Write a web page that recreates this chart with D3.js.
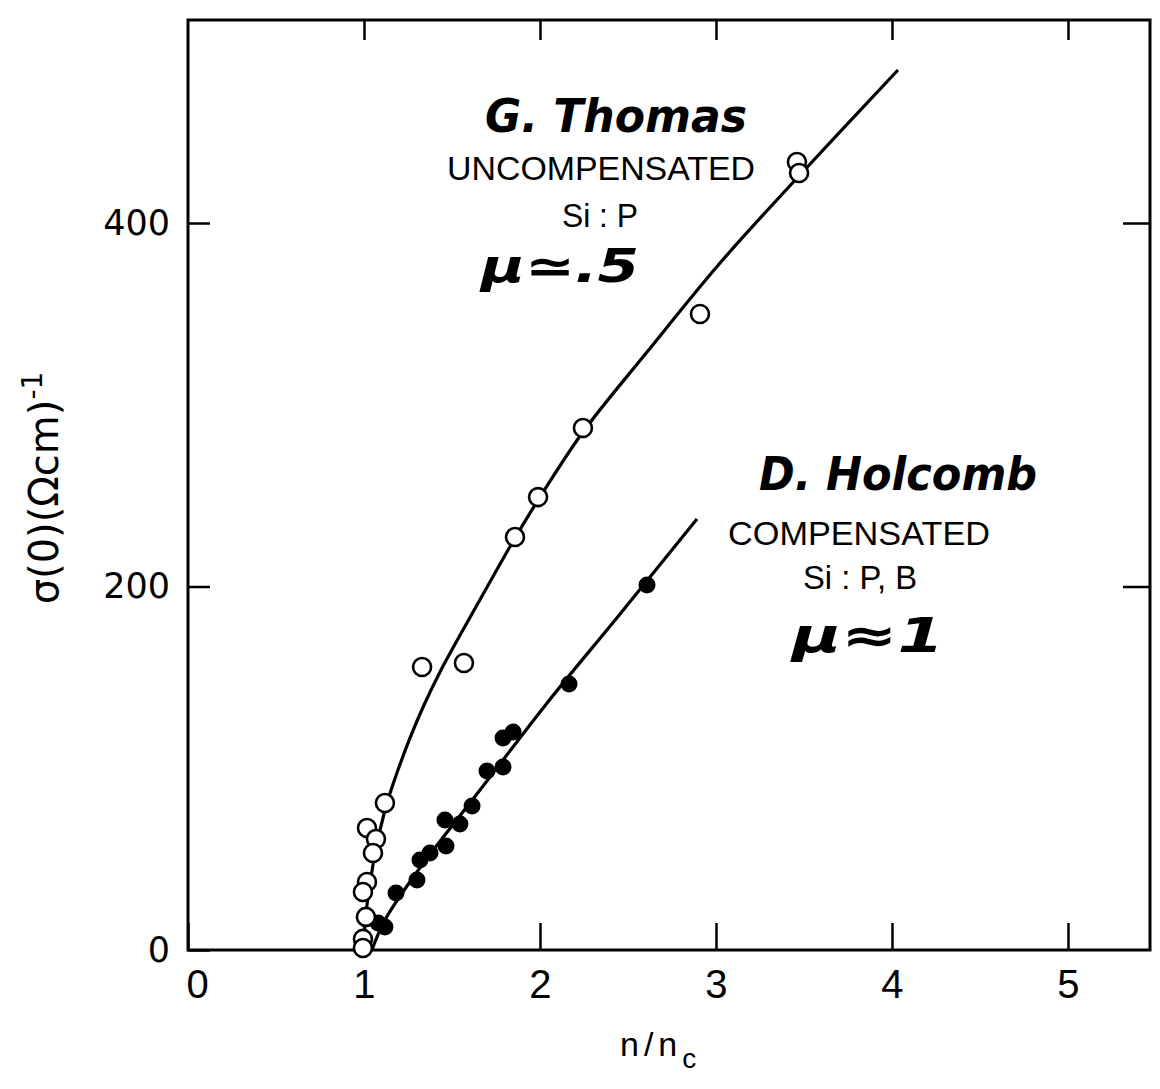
<!DOCTYPE html>
<html>
<head>
<meta charset="utf-8">
<script src="https://cdn.jsdelivr.net/npm/d3@7/dist/d3.min.js"></script>
<style>
  html, body { margin: 0; padding: 0; background: #fff; }
  svg { display: block; }
</style>
</head>
<body>
<svg id="chart" width="1160" height="1089"></svg>
<script>
// ---- data ----
const X_TICKS = [0, 1, 2, 3, 4, 5];
const Y_TICKS = [0, 200, 400];

// G. Thomas, uncompensated Si:P (open circles)
const thomasN     = [3.460, 3.472, 2.909, 2.244, 1.989, 1.858, 1.568, 1.330, 1.119, 1.017, 1.068, 1.051, 1.017, 0.994, 1.011, 0.994, 0.994];
const thomasSigma = [433.6, 427.5, 349.9, 287.2, 249.2, 227.2, 157.9, 155.7, 80.9, 67.1, 61.1, 53.4, 37.4, 31.9, 18.2, 6.1, 1.1];

// D. Holcomb, compensated Si:P,B (filled circles)
const holcombN     = [2.608, 2.165, 1.847, 1.790, 1.790, 1.699, 1.614, 1.545, 1.460, 1.466, 1.375, 1.318, 1.301, 1.182, 1.119, 1.080];
const holcombSigma = [200.8, 146.3, 119.9, 116.6, 100.7, 98.5, 79.2, 69.3, 71.5, 57.2, 53.4, 49.5, 38.5, 31.4, 12.7, 14.9];

// drawn fit curves
const thomasCurveN     = [0.994, 1.017, 1.051, 1.091, 1.136, 1.193, 1.261, 1.341, 1.432, 1.642, 1.858, 2.000, 2.244, 2.608, 3.023, 3.466, 4.034];
const thomasCurveSigma = [0, 24.8, 46.8, 66.0, 82.5, 99.0, 116.6, 134.8, 153.0, 189.8, 226.7, 249.2, 285.0, 329.0, 378.0, 425.3, 484.2];
const holcombCurveN     = [1.045, 1.119, 1.301, 1.659, 2.045, 2.455, 2.892];
const holcombCurveSigma = [0, 16.5, 42.9, 88.0, 136.5, 184.9, 237.1];

// ---- chart ----
const svg = d3.select("#chart");
const x = d3.scaleLinear().domain([0, 5.466]).range([188, 1150]);
const y = d3.scaleLinear().domain([0, 511.7]).range([950, 20]);

const INK = "#000";

// axes (ticks inward)
const gB = svg.append("g").attr("transform", `translate(0,${y(0)})`)
  .call(d3.axisBottom(x).tickValues(X_TICKS).tickSizeInner(-27).tickSizeOuter(0).tickPadding(20).tickFormat(d3.format("d")));
const gL = svg.append("g").attr("transform", `translate(${x(0)},0)`)
  .call(d3.axisLeft(y).tickValues(Y_TICKS).tickSizeInner(-22).tickSizeOuter(0).tickPadding(18).tickFormat(d3.format("d")));
const gT = svg.append("g").attr("transform", `translate(0,${y.range()[1]})`)
  .call(d3.axisTop(x).tickValues(X_TICKS.slice(1)).tickSizeInner(-20).tickSizeOuter(0).tickFormat(""));
const gR = svg.append("g").attr("transform", `translate(${x.range()[1]},0)`)
  .call(d3.axisRight(y).tickValues(Y_TICKS.slice(1)).tickSizeInner(-27).tickSizeOuter(0).tickFormat(""));

[gB, gL, gT, gR].forEach(g => {
  g.select(".domain").remove();
  g.selectAll(".tick line").attr("stroke", INK).attr("stroke-width", 2.5);
});
gB.selectAll(".tick text")
  .attr("font-family", "'Liberation Sans Narrow', 'Liberation Sans', Arial, sans-serif")
  .attr("font-size", 40).attr("fill", INK)
  .attr("dx", d => d === 0 ? 9 : 0);
gL.selectAll(".tick text")
  .attr("font-family", "'DejaVu Sans', sans-serif")
  .attr("font-size", 35).attr("fill", INK);

// frame
svg.append("rect")
  .attr("x", x(0)).attr("y", y.range()[1])
  .attr("width", x.range()[1] - x(0)).attr("height", y(0) - y.range()[1])
  .attr("fill", "none").attr("stroke", INK).attr("stroke-width", 3);

// curves
const line = d3.line().x(d => x(d[0])).y(d => y(d[1])).curve(d3.curveCatmullRom.alpha(0.5));
svg.append("path").datum(d3.zip(thomasCurveN, thomasCurveSigma))
  .attr("d", line).attr("fill", "none").attr("stroke", INK).attr("stroke-width", 3.2);
svg.append("path").datum(d3.zip(holcombCurveN, holcombCurveSigma))
  .attr("d", line).attr("fill", "none").attr("stroke", INK).attr("stroke-width", 3.2);

// points
svg.append("g").selectAll("circle").data(d3.zip(holcombN, holcombSigma)).join("circle")
  .attr("cx", d => x(d[0])).attr("cy", d => y(d[1])).attr("r", 8.5).attr("fill", INK);
svg.append("g").selectAll("circle").data(d3.zip(thomasN, thomasSigma)).join("circle")
  .attr("cx", d => x(d[0])).attr("cy", d => y(d[1])).attr("r", 9)
  .attr("fill", "#fff").attr("stroke", INK).attr("stroke-width", 2.6);

// annotations
const sans = "'Liberation Sans', Arial, Helvetica, sans-serif";
const hand = "'DejaVu Sans', sans-serif";
function txt(s, cx, by, size, fam, opts = {}) {
  const t = svg.append("text").attr("x", cx).attr("y", by)
    .attr("text-anchor", opts.anchor || "middle")
    .attr("font-family", fam).attr("font-size", size).attr("fill", INK)
    .text(s);
  if (opts.bold) t.attr("font-weight", "bold");
  if (opts.italic) t.attr("font-style", "italic");
  if (opts.len) t.attr("textLength", opts.len).attr("lengthAdjust", "spacingAndGlyphs");
  return t;
}
txt("G. Thomas", 616, 132, 46, hand, {bold: true, italic: true, len: 262});
txt("UNCOMPENSATED", 601, 180, 33, sans, {len: 308});
txt("Si : P", 600, 227, 33, sans, {len: 76});
txt("μ≃.5", 560, 282, 46, hand, {bold: true, italic: true, len: 158});

txt("D. Holcomb", 898, 490, 46, hand, {bold: true, italic: true, len: 278});
txt("COMPENSATED", 859, 545, 33, sans, {len: 262});
txt("Si : P, B", 860, 589, 33, sans, {len: 114});
txt("μ≈1", 868, 652, 48, hand, {bold: true, italic: true, len: 152});

// axis titles
const yl = svg.append("text")
  .attr("transform", `translate(58,488) rotate(-90)`)
  .attr("text-anchor", "middle")
  .attr("font-family", "'DejaVu Sans', sans-serif").attr("font-size", 40).attr("fill", INK);
yl.append("tspan").text("σ(0)(Ωcm)");
yl.append("tspan").attr("font-size", 28).attr("dy", -16).text("-1");

const xl = svg.append("text").attr("x", 620).attr("y", 1056)
  .attr("font-family", sans).attr("font-size", 34).attr("fill", INK).attr("letter-spacing", 5);
xl.append("tspan").text("n/n");
xl.append("tspan").attr("font-size", 28).attr("dy", 12).text("c");
</script>
</body>
</html>
